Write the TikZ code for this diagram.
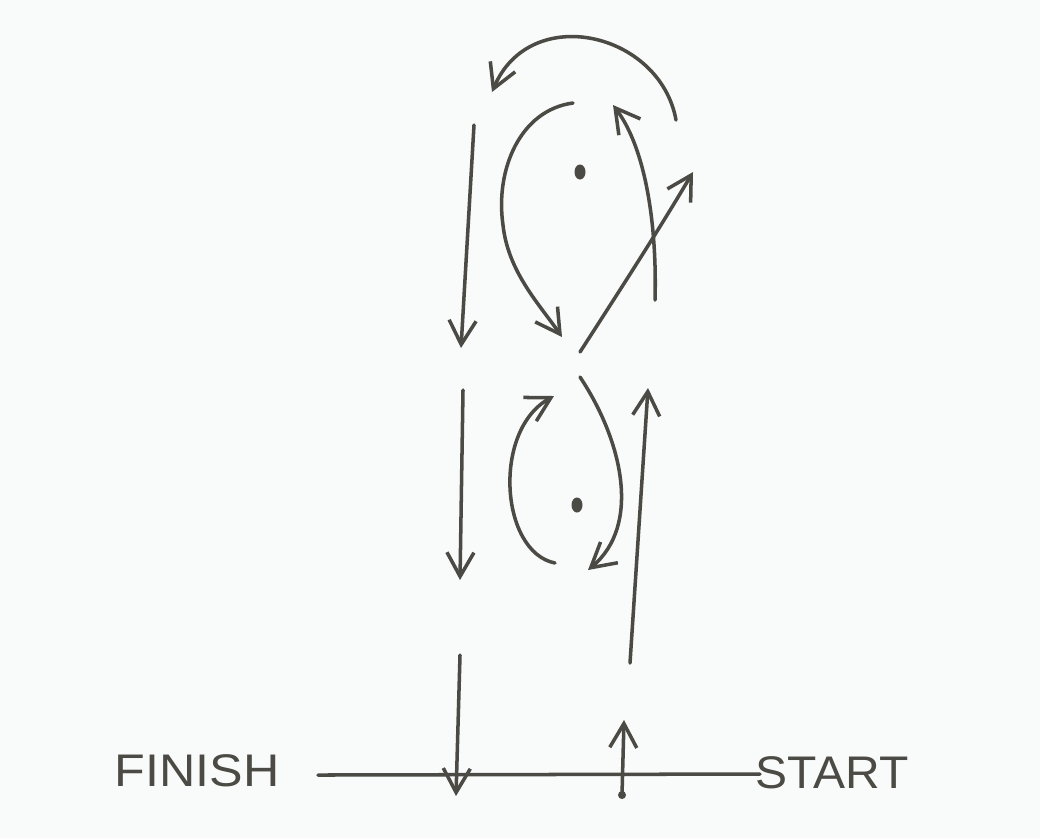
\documentclass[tikz,border=0pt]{standalone}
\usepackage{fontspec}
\setmainfont{Liberation Sans}
\usetikzlibrary{arrows.meta}
\definecolor{ink}{HTML}{4B4A44}
\definecolor{paper}{HTML}{F9FAFA}
\begin{document}
\begin{tikzpicture}[x=0.01cm,y=-0.01cm,
  pen/.style={draw=ink,line width=1pt,line cap=round},
  arr/.style={pen,-{Straight Barb[length=2.4mm,width=2.7mm,line width=1pt]}},
  lbl/.style={text=ink,font=\fontsize{13}{13}\selectfont,inner sep=0pt},
  blob/.style={fill=ink}]
\fill[paper] (0,0) rectangle (1040,838);
\useasboundingbox (0,0) rectangle (1040,838);
% base line and labels
\coordinate (L) at (318,775);
\coordinate (R) at (760,774);
\draw[pen] (L) -- (R);
\node[lbl,xscale=1.1] (finish) at (197,771) {FINISH};
\node[lbl,xscale=1.05] (start) at (832,773) {START};
% dots
\coordinate (c1) at (580,172);
\coordinate (c2) at (577,505);
\fill[blob] (c1) ellipse (0.055cm and 0.075cm);
\fill[blob] (c2) ellipse (0.055cm and 0.075cm);
% left column (down)
\coordinate (d1a) at (474,125); \coordinate (d1b) at (461,348);
\coordinate (d2a) at (463,390); \coordinate (d2b) at (460,580);
\coordinate (d3a) at (460,655); \coordinate (d3b) at (456,796);
\draw[arr] (d1a) -- (d1b);
\draw[arr] (d2a) -- (d2b);
\draw[arr] (d3a) -- (d3b);
% right column (up)
\coordinate (u1a) at (622,795); \coordinate (u1b) at (624,720);
\coordinate (u2a) at (630,663); \coordinate (u2b) at (648,388);
\draw[arr] (u1a) -- (u1b);
\fill[blob] (u1a) circle (0.04cm);
\draw[arr] (u2a) -- (u2b);
% lower loop
\coordinate (la) at (555,563); \coordinate (lb) at (554,396);
\draw[arr] (la) .. controls (500,552) and (492,430) .. (lb);
\coordinate (ra) at (580,377); \coordinate (rb) at (588,570);
\draw[arr] (ra) .. controls (622,440) and (642,525) .. (rb);
% upper part
\coordinate (ga) at (580,352); \coordinate (gb) at (693,172);
\draw[arr] (ga) .. controls (620,290) and (660,228) .. (gb);
\coordinate (ta) at (655,300); \coordinate (tb) at (613,105);
\draw[arr] (ta) .. controls (657,230) and (647,150) .. (tb);
\coordinate (pa) at (573,103); \coordinate (pm) at (503,225); \coordinate (pb) at (562,337);
\draw[arr] (pa) .. controls (520,110) and (495,170) .. (pm) .. controls (508,272) and (540,305) .. (pb);
\coordinate (aa) at (676,120); \coordinate (ab) at (492,92);
\draw[arr] (aa) .. controls (660,32) and (530,2) .. (ab);
\end{tikzpicture}
\end{document}
